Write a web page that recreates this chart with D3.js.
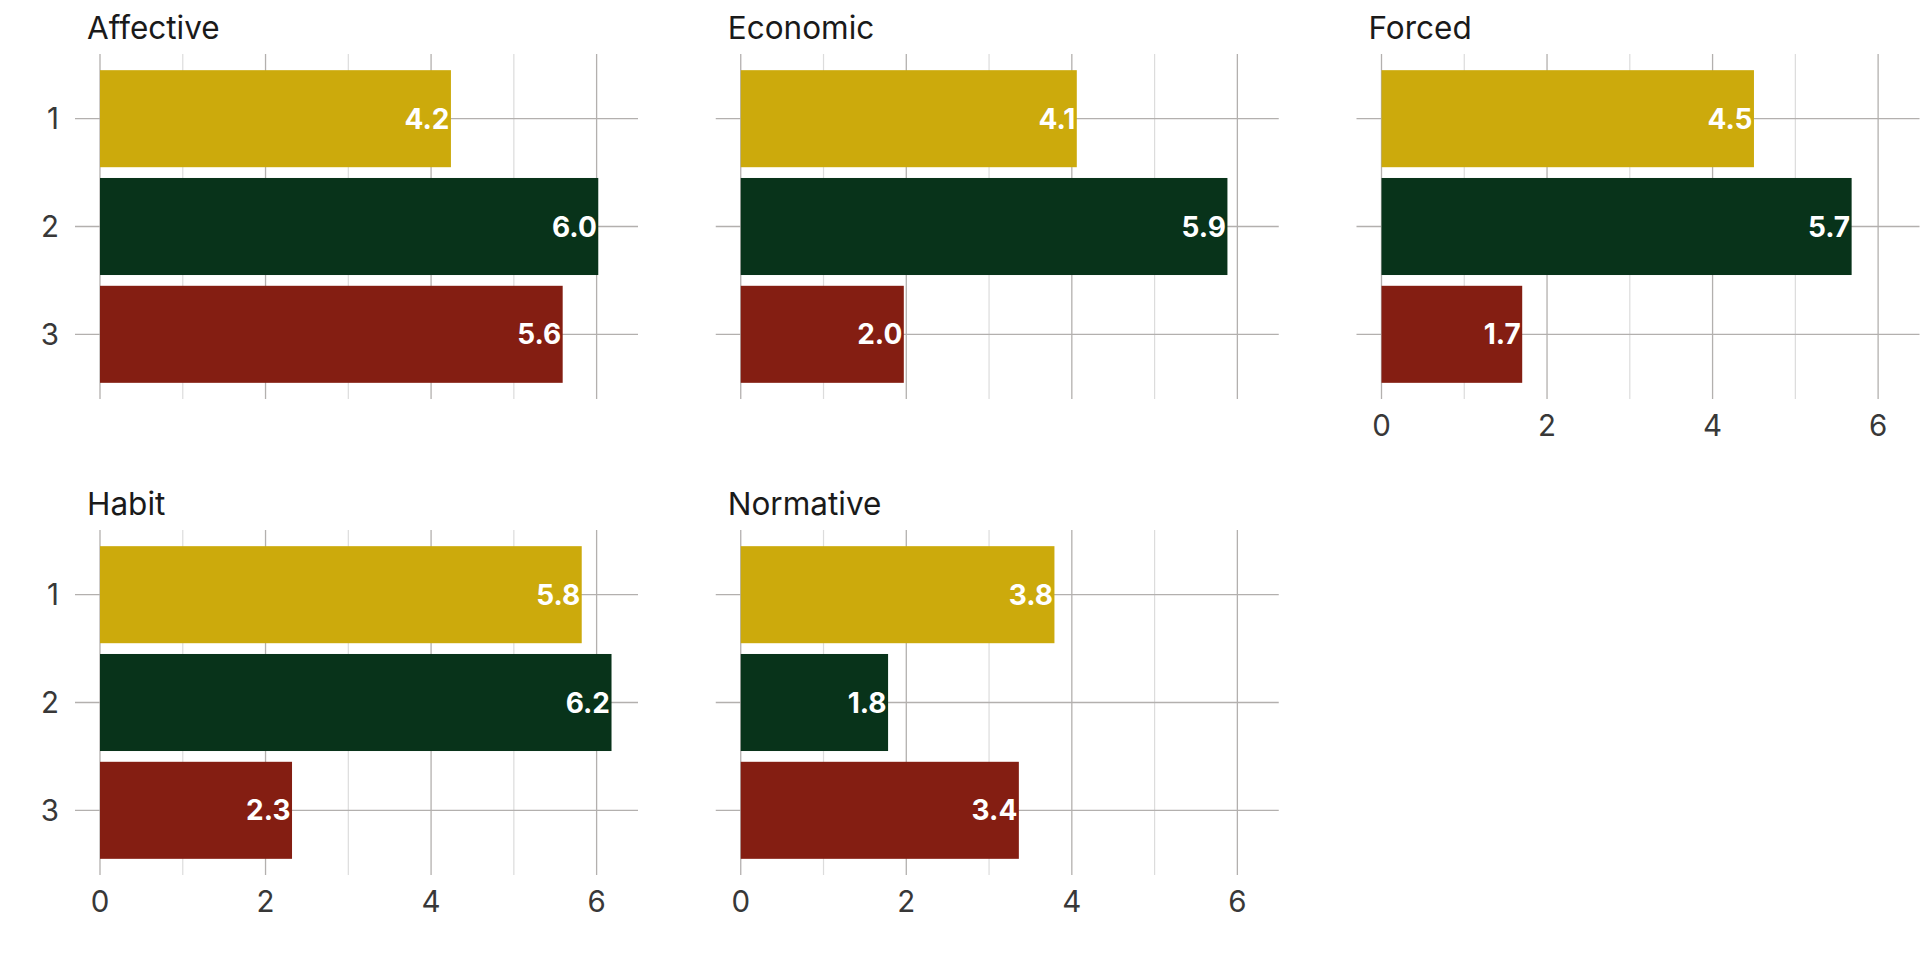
<!DOCTYPE html>
<html>
<head>
<meta charset="utf-8">
<script src="https://cdn.jsdelivr.net/npm/d3@7"></script>
<style>
  body { margin: 0; background: #fff; }
  text { font-family: Inter, "Noto Sans", sans-serif; }
</style>
</head>
<body>
<div id="chart"></div>
<script>
const panels = ["Affective", "Economic", "Forced", "Habit", "Normative"];
const groups = ["1", "2", "3"];
const group1 = [4.24, 4.06, 4.50, 5.82, 3.79];
const group2 = [6.02, 5.88, 5.68, 6.18, 1.78];
const group3 = [5.59, 1.97, 1.70, 2.32, 3.36];
const colors = ["#ccaa0c", "#08331a", "#841e12"];
const xMax = 6.5;

const W = 1920, H = 960;
const panelW = 538, panelH = 345;
const left0 = 100, top0 = 54;
const colStep = 640.75, rowStep = 476;

const svg = d3.select("#chart").append("svg")
  .attr("width", W)
  .attr("height", H);

const x = d3.scaleLinear().domain([0, xMax]).range([0, panelW]);
const y = d3.scaleBand().domain(groups).range([0, panelH])
  .paddingInner(0.1).paddingOuter(0.15);

const major = x.ticks(4);
const minor = x.ticks(8).filter(t => major.indexOf(t) < 0);

const values = [group1, group2, group3];

panels.forEach(function(name, i) {
  const col = i % 3, row = Math.floor(i / 3);
  const g = svg.append("g")
    .attr("transform", `translate(${left0 + col * colStep},${top0 + row * rowStep})`);

  // title
  g.append("text")
    .attr("x", -13)
    .attr("y", -15)
    .attr("font-size", 31.5)
    .attr("fill", "#1a1a1a")
    .text(name);

  // minor + major vertical grid
  g.selectAll(".minor").data(minor).enter().append("line")
    .attr("x1", d => x(d)).attr("x2", d => x(d))
    .attr("y1", 0).attr("y2", panelH)
    .attr("stroke", "#dcdcdc").attr("stroke-width", 1.2);
  g.selectAll(".major").data(major).enter().append("line")
    .attr("x1", d => x(d)).attr("x2", d => x(d))
    .attr("y1", 0).attr("y2", panelH)
    .attr("stroke", "#b3b0ae").attr("stroke-width", 1.3);

  // horizontal grid + ticks
  g.selectAll(".hgrid").data(groups).enter().append("line")
    .attr("x1", -25).attr("x2", panelW)
    .attr("y1", d => y(d) + y.bandwidth() / 2)
    .attr("y2", d => y(d) + y.bandwidth() / 2)
    .attr("stroke", "#b3b0ae").attr("stroke-width", 1.3);

  const rows = groups.map((k, j) => ({ key: k, value: values[j][i], color: colors[j] }));

  g.selectAll(".bar").data(rows).enter().append("rect")
    .attr("x", x(0))
    .attr("y", d => y(d.key))
    .attr("width", d => x(d.value) - x(0))
    .attr("height", y.bandwidth())
    .attr("fill", d => d.color);

  g.selectAll(".lbl").data(rows).enter().append("text")
    .attr("x", d => x(d.value) - 1.5)
    .attr("y", d => y(d.key) + y.bandwidth() / 2)
    .attr("dy", "0.36em")
    .attr("text-anchor", "end")
    .attr("font-size", 28)
    .attr("font-weight", 700)
    .attr("fill", "#fff")
    .text(d => d.value.toFixed(1));

  // y labels only on first column
  if (col === 0) {
    g.selectAll(".ylab").data(groups).enter().append("text")
      .attr("x", -41)
      .attr("y", d => y(d) + y.bandwidth() / 2)
      .attr("dy", "0.36em")
      .attr("text-anchor", "end")
      .attr("font-size", 29.5)
      .attr("fill", "#383838")
      .text(d => d);
  }

  // x labels only on bottom panel of each column
  if (row === 1 || i === 2) {
    g.selectAll(".xlab").data(major).enter().append("text")
      .attr("x", d => x(d))
      .attr("y", panelH + 37)
      .attr("text-anchor", "middle")
      .attr("font-size", 29.5)
      .attr("fill", "#383838")
      .text(d => d);
  }
});
</script>
</body>
</html>
